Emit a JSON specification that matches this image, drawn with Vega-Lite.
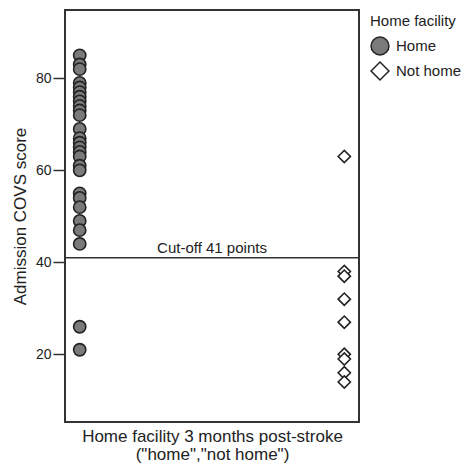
{
  "$schema": "https://vega.github.io/schema/vega-lite/v6.json",
  "autosize": "none",
  "width": 294,
  "height": 412,
  "padding": {"left": 65, "top": 10, "right": 104, "bottom": 43},
  "background": "white",
  "config": {
    "font": "Liberation Sans",
    "view": {"stroke": "#333333", "strokeWidth": 2},
    "axis": {"grid": false, "labelColor": "#222222", "titleColor": "#222222", "titleFontWeight": "normal", "labelFontSize": 14, "titleFontSize": 17}
  },
  "layer": [
    {
      "data": {"values": [{"cutoff": 41}]},
      "mark": {"type": "rule", "color": "#333333", "strokeWidth": 1.5},
      "encoding": {"y": {"field": "cutoff", "type": "quantitative", "scale": {"domain": [5.3, 94.85], "nice": false, "zero": false}}}
    },
    {
      "data": {"values": [{"cutoff": 41, "label": "Cut-off 41 points"}]},
      "mark": {"type": "text", "fontSize": 15, "color": "#222222", "baseline": "bottom", "dy": -2},
      "encoding": {
        "y": {"field": "cutoff", "type": "quantitative"},
        "text": {"field": "label"}
      }
    },
    {
      "data": {"values": [
        {"facility": "Home", "score": 85},
        {"facility": "Home", "score": 83},
        {"facility": "Home", "score": 82},
        {"facility": "Home", "score": 79},
        {"facility": "Home", "score": 78},
        {"facility": "Home", "score": 77},
        {"facility": "Home", "score": 76},
        {"facility": "Home", "score": 75},
        {"facility": "Home", "score": 74},
        {"facility": "Home", "score": 73},
        {"facility": "Home", "score": 72},
        {"facility": "Home", "score": 69},
        {"facility": "Home", "score": 67},
        {"facility": "Home", "score": 66},
        {"facility": "Home", "score": 65},
        {"facility": "Home", "score": 64},
        {"facility": "Home", "score": 63},
        {"facility": "Home", "score": 61},
        {"facility": "Home", "score": 60},
        {"facility": "Home", "score": 55},
        {"facility": "Home", "score": 54},
        {"facility": "Home", "score": 52},
        {"facility": "Home", "score": 49},
        {"facility": "Home", "score": 47},
        {"facility": "Home", "score": 44},
        {"facility": "Home", "score": 26},
        {"facility": "Home", "score": 21},
        {"facility": "Not home", "score": 63},
        {"facility": "Not home", "score": 38},
        {"facility": "Not home", "score": 37},
        {"facility": "Not home", "score": 32},
        {"facility": "Not home", "score": 27},
        {"facility": "Not home", "score": 20},
        {"facility": "Not home", "score": 19},
        {"facility": "Not home", "score": 16},
        {"facility": "Not home", "score": 14}
      ]},
      "mark": {"type": "point", "filled": false, "size": 150, "stroke": "#222222", "strokeWidth": 1.6, "opacity": 1, "fillOpacity": 1},
      "encoding": {
        "x": {"field": "facility", "type": "nominal", "scale": {"type": "point", "padding": 0.0556},
          "axis": {"labels": false, "ticks": false, "domain": false, "titlePadding": 6, "titleLineHeight": 18,
            "title": ["Home facility 3 months post-stroke", "(\"home\",\"not home\")"]}},
        "y": {"field": "score", "type": "quantitative", "scale": {"domain": [5.3, 94.85], "nice": false, "zero": false},
          "axis": {"values": [20, 40, 60, 80], "domain": false, "tickSize": 12, "tickColor": "#333333", "tickWidth": 1.5, "labelPadding": 2, "titlePadding": 6, "title": "Admission COVS score"}},
        "shape": {"field": "facility", "type": "nominal", "scale": {"domain": ["Home", "Not home"], "range": ["circle", "diamond"]},
          "legend": {"title": "Home facility", "orient": "none", "legendX": 305, "legendY": 4, "titleFontSize": 15, "titleFontWeight": "normal", "titleColor": "#222222", "labelFontSize": 15, "labelColor": "#222222", "symbolSize": 320, "rowPadding": 1, "titlePadding": 7, "labelOffset": 6,
            "encode": {"symbols": {"update": {"stroke": {"value": "#222222"}, "strokeWidth": {"value": 1.6}, "opacity": {"value": 1}}}}}},
        "fill": {"field": "facility", "type": "nominal", "scale": {"domain": ["Home", "Not home"], "range": ["#7a7a7a", "#ffffff"]},
          "legend": {"title": "Home facility"}}
      }
    }
  ]
}
